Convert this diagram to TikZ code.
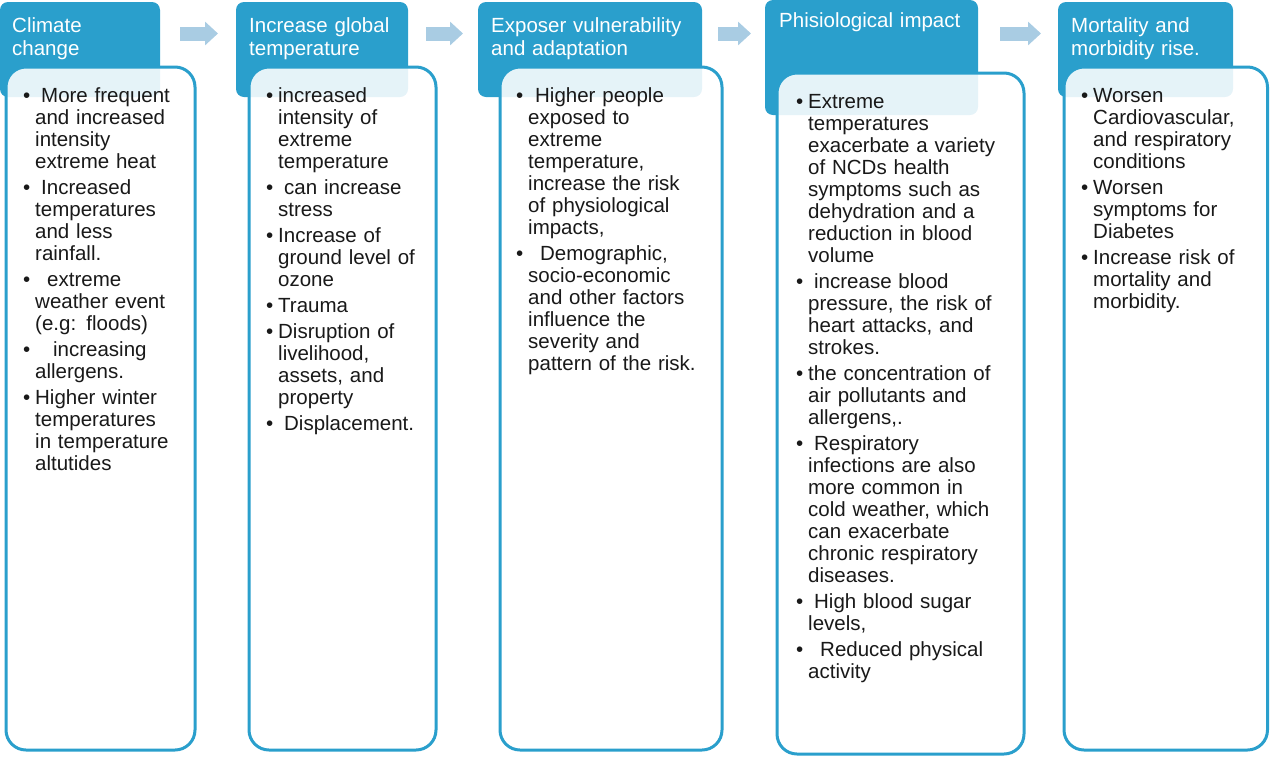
\documentclass[tikz,border=0pt]{standalone}
\usepackage{fontspec}
\setmainfont{Liberation Sans}
\usetikzlibrary{arrows.meta,positioning}
\definecolor{hdrblue}{HTML}{2A9FCC}
\definecolor{arrblue}{HTML}{A9CCE3}
\tikzset{
  header/.style={rectangle, rounded corners=8pt, fill=hdrblue, anchor=north west, inner sep=0pt, outer sep=0pt},
  panel/.style={rectangle, rounded corners=20pt, draw=hdrblue, line width=3pt, fill=white, fill opacity=0.88, anchor=north west, inner sep=0pt, outer sep=0pt},
  headtext/.style={anchor=base west, inner sep=0pt, text width=220pt, align=left, text=white, font=\fontsize{20.5}{23}\selectfont},
  bodytext/.style={anchor=base west, inner sep=0pt, text width=230pt, align=left, text=black!90, font=\fontsize{20.5}{22}\selectfont},
  flow/.style={draw=arrblue, line width=14pt, -{Triangle[width=23pt,length=13pt]}}
}
\newcommand{\bul}[1][0pt]{\leavevmode\llap{\textbullet\kern5pt}\hspace*{#1}}

\begin{document}
\begin{tikzpicture}[x=1pt, y=-1pt]
    \useasboundingbox (0,0) rectangle (1270,756);
    % header boxes
    \node [header, minimum width=160pt, minimum height=95pt] (h1) at (0,2) {};
    \node [header, minimum width=172pt, minimum height=95pt] (h2) at (236,2) {};
    \node [header, minimum width=224pt, minimum height=95pt] (h3) at (478,2) {};
    \node [header, minimum width=213pt, minimum height=115pt] (h4) at (765,0) {};
    \node [header, minimum width=175pt, minimum height=95pt] (h5) at (1058,2) {};
    % panels over the headers
    \node [panel, minimum width=189pt, minimum height=683pt] (p1) at (6,67) {};
    \node [panel, minimum width=187pt, minimum height=683pt] (p2) at (249,67) {};
    \node [panel, minimum width=222pt, minimum height=683pt] (p3) at (500,67) {};
    \node [panel, minimum width=247pt, minimum height=681pt] (p4) at (777,73) {};
    \node [panel, minimum width=203.5pt, minimum height=683pt] (p5) at (1064,67) {};
    % arrows
    \draw [flow, shorten <=20pt, shorten >=18pt] (h1.east |- 0,33.5) -- (h2.west |- 0,33.5);
    \draw [flow, shorten <=18pt, shorten >=15pt] (h2.east |- 0,33.5) -- (h3.west |- 0,33.5);
    \draw [flow, shorten <=16pt, shorten >=14pt] (h3.east |- 0,33.5) -- (h4.west |- 0,33.5);
    \draw [flow, shorten <=22pt, shorten >=17pt] (h4.east |- 0,33.5) -- (h5.west |- 0,33.5);
    % titles
    \node [headtext] (t1) at ([shift={(12,30)}]h1.north west) {Climate\\change};
    \node [headtext] (t2) at ([shift={(13,30)}]h2.north west) {Increase global\\temperature};
    \node [headtext] (t3) at ([shift={(13,30)}]h3.north west) {Exposer vulnerability\\and adaptation};
    \node [headtext] (t4) at ([shift={(14,27)}]h4.north west) {Phisiological impact};
    \node [headtext] (t5) at ([shift={(13,30)}]h5.north west) {Mortality and\\morbidity rise.};
    % lists
    \node [bodytext] (l1) at ([shift={(29,35)}]p1.north west) {%
      \bul[6pt]More frequent\\and increased\\intensity\\extreme heat\\[4pt]
      \bul[6pt]Increased\\temperatures\\and less\\rainfall.\\[4pt]
      \bul[12pt]extreme\\weather event\\(e.g: floods)\\[4pt]
      \bul[18pt]increasing\\allergens.\\[4pt]
      \bul Higher winter\\temperatures\\in temperature\\altutides};
    \node [bodytext] (l2) at ([shift={(29,35)}]p2.north west) {%
      \bul increased\\intensity of\\extreme\\temperature\\[4pt]
      \bul[6pt]can increase\\stress\\[4pt]
      \bul Increase of\\ground level of\\ozone\\[4pt]
      \bul Trauma\\[4pt]
      \bul Disruption of\\livelihood,\\assets, and\\property\\[4pt]
      \bul[6pt]Displacement.};
    \node [bodytext] (l3) at ([shift={(28,35)}]p3.north west) {%
      \bul[7pt]Higher people\\exposed to\\extreme\\temperature,\\increase the risk\\of physiological\\impacts,\\[4pt]
      \bul[12pt]Demographic,\\socio-economic\\and other factors\\influence the\\severity and\\pattern of the risk.};
    \node [bodytext] (l4) at ([shift={(31,35.5)}]p4.north west) {%
      \bul Extreme\\temperatures\\exacerbate a variety\\of NCDs health\\symptoms such as\\dehydration and a\\reduction in blood\\volume\\[4pt]
      \bul[6pt]increase blood\\pressure, the risk of\\heart attacks, and\\strokes.\\[4pt]
      \bul the concentration of\\air pollutants and\\allergens,.\\[4pt]
      \bul[6pt]Respiratory\\infections are also\\more common in\\cold weather, which\\can exacerbate\\chronic respiratory\\diseases.\\[4pt]
      \bul[6pt]High blood sugar\\levels,\\[4pt]
      \bul[12pt]Reduced physical\\activity};
    \node [bodytext] (l5) at ([shift={(29,35)}]p5.north west) {%
      \bul Worsen\\Cardiovascular,\\and respiratory\\conditions\\[4pt]
      \bul Worsen\\symptoms for\\Diabetes\\[4pt]
      \bul Increase risk of\\mortality and\\morbidity.};
\end{tikzpicture}
\end{document}
